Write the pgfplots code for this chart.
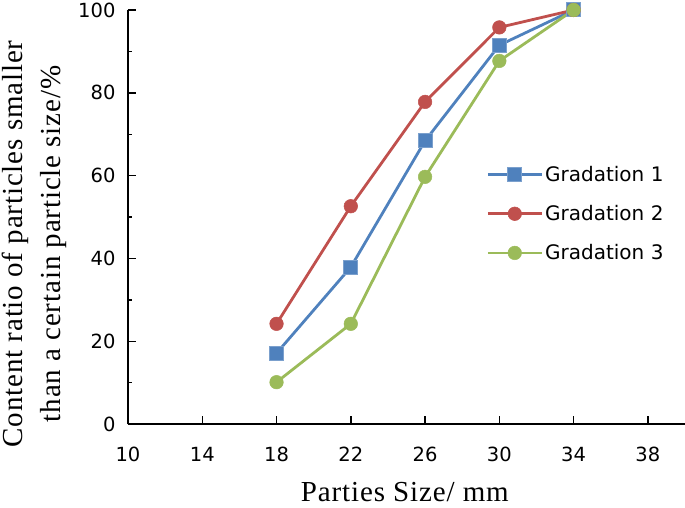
\documentclass[border=0pt]{standalone}
\usepackage{pgfplots}
\pgfplotsset{compat=1.18}
\usepackage{fontspec}
\setmainfont{DejaVu Sans}
\newfontfamily\tnr{Liberation Serif}[LetterSpace=3]
\usetikzlibrary{calc}
\definecolor{cblue}{HTML}{4F81BD}
\definecolor{cred}{HTML}{C0504D}
\definecolor{cgreen}{HTML}{9BBB59}
\begin{document}
\begin{tikzpicture}
\begin{axis}[name=ax, scale only axis, width=557pt, height=414pt,
  xmin=10, xmax=40, ymin=0, ymax=100,
  xtick={10,14,...,38}, ytick={0,20,...,100}, minor ytick={10,30,...,90},
  axis x line*=bottom, axis y line*=left,
  axis line style={line width=1.6pt, -},
  tick align=inside, major tick length=8pt, minor tick length=4.5pt,
  every tick/.style={black, line width=1.4pt},
  /pgf/number format/assume math mode=true,
  tick label style={font=\fontsize{19.5}{23}\selectfont},
  xticklabel style={yshift=-30pt, anchor=center},
  yticklabel style={xshift=-9pt},
  xlabel={Parties Size/ mm},
  xlabel style={font=\tnr\fontsize{29}{38}\selectfont, at={(axis description cs:0.497,-0.186)}, anchor=base},
  ylabel={Content ratio of particles smaller\\than a certain particle size/\%},
  ylabel style={font=\tnr\fontsize{29}{38}\selectfont, align=center, at={(axis description cs:-0.168,0.435)}, anchor=center},
  legend style={draw=none, fill=none, at={(axis description cs:0.643,0.628)}, anchor=north west,
    font=\fontsize{20}{24}\selectfont, row sep=18.5pt, inner sep=0pt},
  legend cell align=left,
  legend image code/.code={\draw[mark repeat=2,mark phase=2,#1] plot coordinates {(0pt,0pt) (27pt,0pt) (54pt,0pt)};},
]
\addplot[cblue, line width=2.8pt, mark=square*, mark size=7pt, mark options={fill=cblue, draw=cblue!75!white, line width=1pt}]
  coordinates {(18,17.1) (22,37.9) (26,68.4) (30,91.5) (34,100)};
\addlegendentry{Gradation 1}
\addplot[cred, line width=2.8pt, mark=*, mark size=6.8pt, mark options={fill=cred, draw=cred, line width=0.5pt}]
  coordinates {(18,24.2) (22,52.6) (26,77.8) (30,95.8) (34,100)};
\addlegendentry{Gradation 2}
\addplot[cgreen, line width=2.8pt, mark=*, mark size=6.8pt, mark options={fill=cgreen, draw=cgreen, line width=0.5pt}]
  coordinates {(18,10.1) (22,24.2) (26,59.7) (30,87.7) (34,100)};
\addlegendentry{Gradation 3}
\end{axis}
\pgfresetboundingbox
\path ($(ax.south west)+(-128pt,-83pt)$) rectangle ($(ax.north east)+(0pt,10pt)$);
\end{tikzpicture}
\end{document}
